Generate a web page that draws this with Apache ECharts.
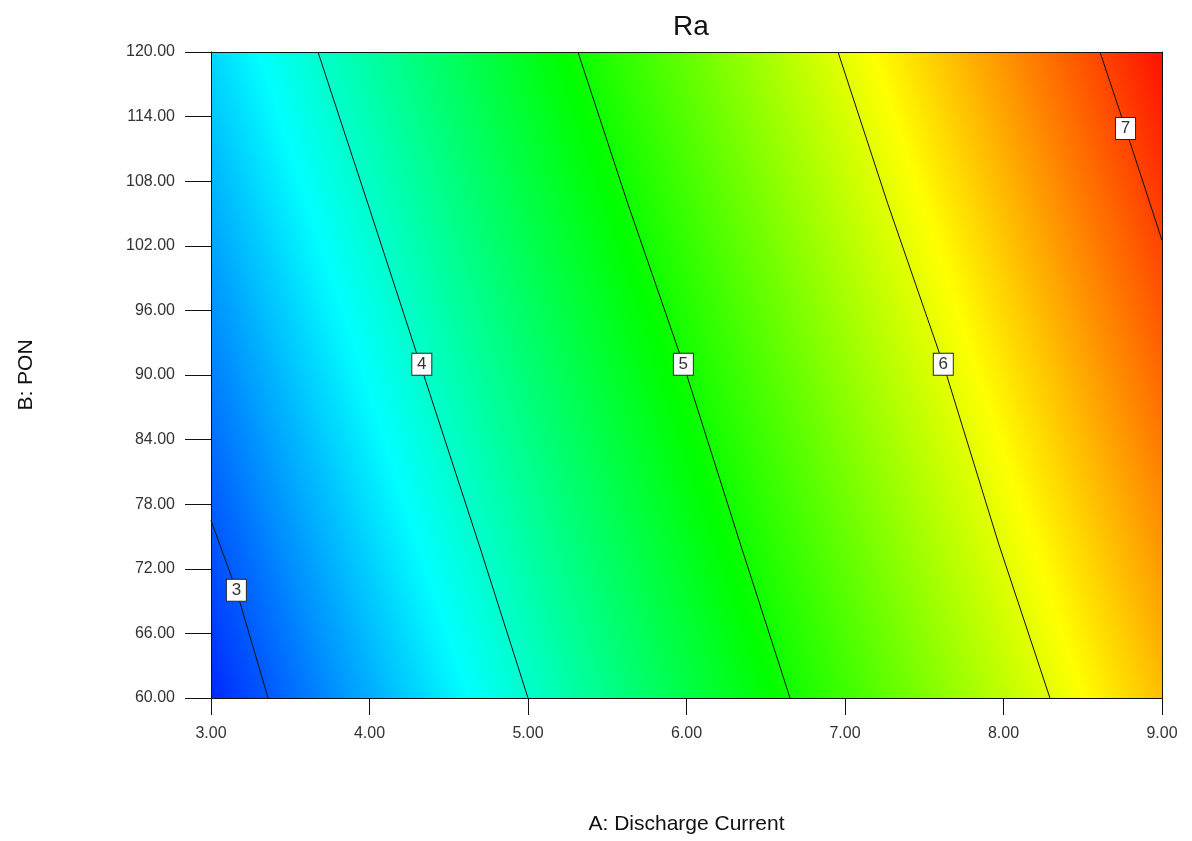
<!DOCTYPE html>
<html>
<head>
<meta charset="utf-8">
<script src="https://cdn.jsdelivr.net/npm/echarts@6/dist/echarts.min.js"></script>
<style>html,body{margin:0;padding:0;background:#fff}#c{width:1192px;height:841px}</style>
</head>
<body>
<div id="c"></div>
<script>
// ---- data ----
const xTicks = [3, 4, 5, 6, 7, 8, 9];
const yTicks = [60, 66, 72, 78, 84, 90, 96, 102, 108, 114, 120];
const contour3 = [[3.00, 76.5], [3.16, 70.0], [3.36, 60.0]];
const contour4 = [[3.675, 120.0], [3.99, 105.9], [4.32, 91.0], [4.69, 74.3], [5.00, 60.0]];
const contour5 = [[5.315, 120.0], [5.63, 105.9], [5.98, 91.0], [6.34, 74.3], [6.653, 60.0]];
const contour6 = [[6.956, 120.0], [7.27, 105.9], [7.62, 91.0], [7.97, 74.3], [8.293, 60.0]];
const contour7 = [[8.609, 120.0], [8.77, 112.9], [9.00, 102.5]];
const contourLabels = [[3.16, 70.0, 3], [4.33, 91.0, 4], [5.98, 91.0, 5], [7.62, 91.0, 6], [8.77, 112.9, 7]];
// colour scale of Ra (value -> colour)
const colorLevels = [2.6, 3.77, 4.93, 6.12, 7.3];
const colorValues = ['#0000ff', '#00ffff', '#00ff00', '#ffff00', '#ff0000'];

const FONT = 'Liberation Sans';
const chart = echarts.init(document.getElementById('c'));

function lineSeries(d) {
  return {
    type: 'line', data: d, symbol: 'none', silent: true, z: 3,
    lineStyle: { color: '#111', width: 1 }, animation: false
  };
}

const option = {
  animation: false,
  title: {
    text: 'Ra', left: 686, top: 8, textAlign: 'center',
    textStyle: { fontFamily: FONT, fontSize: 28, fontWeight: 'normal', color: '#111' }
  },
  grid: { left: 211, top: 52, right: 30, bottom: 143 },
  xAxis: [{
    type: 'value', min: 3, max: 9, interval: 1, z: 10,
    name: 'A: Discharge Current', nameLocation: 'middle', nameGap: 116,
    nameTextStyle: { fontFamily: FONT, fontSize: 21, color: '#111' },
    axisLine: { show: true, lineStyle: { color: '#111', width: 1 } },
    axisTick: { show: true, inside: false, length: 17, lineStyle: { color: '#111' } },
    axisLabel: { margin: 28, fontFamily: FONT, fontSize: 16, color: '#333',
      formatter: v => v.toFixed(2) },
    splitLine: { show: false }
  }, {
    type: 'value', min: 3, max: 9, position: 'top', z: 10,
    axisLine: { show: true, onZero: false, lineStyle: { color: '#111' } },
    axisTick: { show: false }, axisLabel: { show: false }, splitLine: { show: false }
  }],
  yAxis: [{
    type: 'value', min: 60, max: 120, interval: 6, z: 10,
    name: 'B: PON', nameLocation: 'middle', nameGap: 174,
    nameTextStyle: { fontFamily: FONT, fontSize: 21, color: '#111' },
    axisLine: { show: true, lineStyle: { color: '#111', width: 1 } },
    axisTick: { show: true, inside: false, length: 26, lineStyle: { color: '#111' } },
    axisLabel: { margin: 36, fontFamily: FONT, fontSize: 16, color: '#333',
      formatter: v => v.toFixed(2) },
    splitLine: { show: false }
  }, {
    type: 'value', min: 60, max: 120, position: 'right', z: 10,
    axisLine: { show: true, onZero: false, lineStyle: { color: '#111' } },
    axisTick: { show: false }, axisLabel: { show: false }, splitLine: { show: false }
  }],
  series: [
    {
      type: 'custom', silent: true, z: 1, clip: true,
      data: [[3, 60]],
      renderItem: function (params, api) {
        const cs = params.coordSys;
        const a = api.coord(contour4[0]);
        const b = api.coord(contour4[contour4.length - 1]);
        let dx = b[0] - a[0], dy = b[1] - a[1];
        const len = Math.hypot(dx, dy); dx /= len; dy /= len;
        const nx = -dy, ny = dx;
        const p4 = api.coord(contour4[2]);
        const p6 = api.coord(contour6[2]);
        const s = ((p6[0] - p4[0]) * nx + (p6[1] - p4[1]) * ny) / 2;
        const L0 = colorLevels[0], L1 = colorLevels[colorLevels.length - 1];
        const x1 = p4[0] + nx * s * (L0 - 4), y1 = p4[1] + ny * s * (L0 - 4);
        const x2 = p4[0] + nx * s * (L1 - 4), y2 = p4[1] + ny * s * (L1 - 4);
        const stops = colorLevels.map((l, i) => ({ offset: (l - L0) / (L1 - L0), color: colorValues[i] }));
        return {
          type: 'rect',
          shape: { x: cs.x, y: cs.y, width: cs.width, height: cs.height },
          style: { fill: new echarts.graphic.LinearGradient(x1, y1, x2, y2, stops, true) }
        };
      }
    },
    lineSeries(contour3), lineSeries(contour4), lineSeries(contour5),
    lineSeries(contour6), lineSeries(contour7),
    {
      type: 'scatter', data: contourLabels, silent: true, z: 5,
      symbol: 'rect', symbolSize: [20, 22],
      itemStyle: { color: '#fff', borderColor: '#222', borderWidth: 1, opacity: 1 },
      label: { show: true, position: 'inside', formatter: p => String(p.value[2]),
        fontFamily: FONT, fontSize: 17, color: '#333' }
    }
  ]
};
chart.setOption(option);
</script>
</body>
</html>
